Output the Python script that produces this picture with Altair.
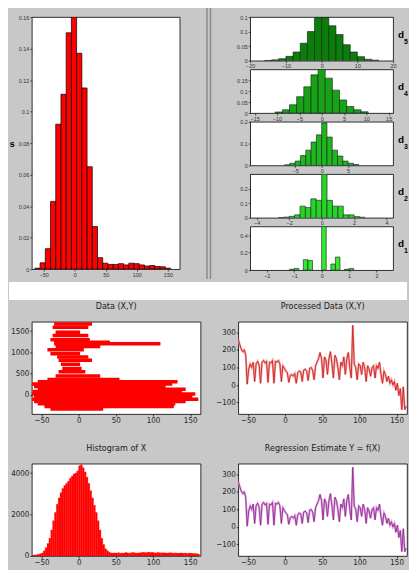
import altair as alt
import numpy as np
import pandas as pd

# ---------------- data ----------------
BIG_BIN_START = -64.1
BIG_BIN_WIDTH = 8.4
BIG_HEIGHTS = [0.0006, 0.004, 0.013, 0.043, 0.092, 0.111, 0.150, 0.160, 0.137, 0.115,
               0.065, 0.027, 0.0073, 0.0038, 0.003, 0.003, 0.0035, 0.0027, 0.0038, 0.0035,
               0.0027, 0.002, 0.0023, 0.0017, 0.0015, 0.0006]
BIG_X_TICKS = [-50, 0, 50, 100, 150]
BIG_Y_TICKS = [0, 0.02, 0.04, 0.06, 0.08, 0.1, 0.12, 0.14, 0.16]

D_NAMES = ["5", "4", "3", "2", "1"]
D_COLORS = ["#0b7d0b", "#17a317", "#1fb71f", "#25d425", "#30ea30"]

D5_STARTS = [-16, -14, -12, -10, -8, -6, -4, -2, 0, 2, 4, 6, 8, 10, 12, 14]
D5_HEIGHTS = [0.001, 0.003, 0.007, 0.015, 0.03, 0.06, 0.1, 0.148, 0.148, 0.12, 0.09, 0.055, 0.03, 0.014, 0.005, 0.002]
D5_WIDTH = 2
D4_STARTS = [-10.4, -8.8, -7.2, -5.6, -4.0, -2.4, -0.8, 0.8, 2.4, 4.0, 5.6, 7.2, 8.8]
D4_HEIGHTS = [0.005, 0.015, 0.038, 0.075, 0.12, 0.175, 0.2, 0.16, 0.105, 0.06, 0.03, 0.015, 0.006]
D4_WIDTH = 1.6
D3_STARTS = [-7, -6, -5, -4, -3, -2, -1, 0, 1, 2, 3, 4, 5, 6]
D3_HEIGHTS = [0.003, 0.01, 0.02, 0.045, 0.07, 0.107, 0.14, 0.195, 0.13, 0.07, 0.043, 0.02, 0.01, 0.004]
D3_WIDTH = 1
D2_STARTS = [-2.667, -2.333, -2.0, -1.667, -1.333, -1.0, -0.667, -0.333, 0.0, 0.333, 0.667, 1.0, 1.333, 1.667, 2.0, 2.333]
D2_HEIGHTS = [0.002, 0.005, 0.01, 0.02, 0.08, 0.07, 0.13, 0.12, 0.3, 0.12, 0.08, 0.08, 0.02, 0.02, 0.008, 0.004]
D2_WIDTH = 0.333
D1_STARTS = [-1.167, -1.0, -0.667, -0.5, 0.0, 0.333, 0.5, 0.833, 1.0]
D1_HEIGHTS = [0.01, 0.02, 0.12, 0.11, 0.5, 0.07, 0.15, 0.01, 0.02]
D1_WIDTH = 0.167

D_XDOMAINS = [[-20, 20], [-16, 16], [-13.5, 13.5], [-4.4, 4.4], [-2.6, 2.6]]
D_XTICKS = [[-20, -10, 0, 10, 20], [-15, -10, -5, 0, 5, 10, 15], [-5, 0, 5], [-4, -2, 0, 2, 4], [-2, -1, 0, 1, 2]]
D_YDOMAINS = [[0, 0.15], [0, 0.2], [0, 0.2], [0, 0.3], [0, 0.5]]
D_YTICKS = [[0, 0.05, 0.1, 0.15], [0, 0.05, 0.1, 0.15], [0, 0.1, 0.2], [0, 0.1, 0.2], [0, 0.2, 0.4]]

# Data (X,Y): horizontal streaks of '+' markers (row y, x from, x to)
ROW_Y = [1668, 1590, 1474, 1396, 1295, 1241, 1202, 1140, 1063, 970, 892, 815, 722, 622, 544,
         443, 365, 311, 257, 195, 133, 79, 24, -38, -100, -154, -209, -271, -333]
ROW_X0 = [-33, -35, -31, -35, -38, -33, -33, -31, -42, -38, -29, -27, -24, -22, -27,
          -31, -42, -55, -64, -60, -55, -62, -64, -60, -64, -60, -55, -46, -38]
ROW_X1 = [18, 13, 2, 13, 15, 42, 110, 29, 7, 2, 13, 18, 2, 4, 9,
          29, 55, 133, 126, 117, 144, 139, 157, 153, 161, 144, 130, 128, 33]

# Processed data / regression estimate line
LINE_X = list(range(-63, 164, 2))
LINE_Y = [260, 230, 205, 190, 200, 170, 5, 90, 120, 100,
          130, 20, 120, 135, 115, 10, 130, 140, 125, 135,
          15, 130, 125, 140, 10, 135, 130, 140, 120, 20,
          110, 95, 80, 70, 15, 55, 60, 50, 65, 10,
          70, 80, 75, 20, 85, 90, 80, 25, 95, 100,
          85, 30, 110, 130, 150, 185, 150, 40, 160, 140,
          60, 150, 190, 120, 40, 170, 150, 100, 30, 130,
          110, 160, 60, 150, 185, 100, 40, 340, 120, 100,
          30, 120, 110, 60, 130, 100, 20, 110, 90, 50,
          100, 110, 40, 110, 95, 130, 60, 10, 80, 60,
          20, 50, 10, 30, 0, 20, -30, 10, -60, -20,
          -140, -10, -140, -120]

# Histogram of X
HIST_BIN_START = -62.5
HIST_BIN_WIDTH = 2.5
HIST_COUNTS = [40, 50, 60, 80, 110, 150, 250, 400, 600, 850,
               1250, 1700, 2100, 2500, 2800, 3050, 3250, 3400, 3500, 3600,
               3750, 3850, 3950, 4000, 4100, 4350, 4400, 4250, 4050, 3800,
               3500, 3150, 2800, 2450, 2100, 1700, 1250, 850, 550, 350,
               250, 180, 150, 140,
               150, 140, 160, 130, 150, 140, 170, 150, 130, 160,
               170, 150, 140, 150, 160, 180, 170, 160, 190, 170,
               180, 160, 150, 170, 160, 150, 160, 150, 140, 150,
               160, 140, 150, 145, 130, 140, 150, 130, 140, 125,
               140, 130, 120, 125, 110, 100]

BOTTOM_X_TICKS = [-50, 0, 50, 100, 150]
BOTTOM_X_DOMAIN = [-63, 164]

# ---------------- styling ----------------
GRAY = "#c8c8c8"
SMALL_FONT = "Liberation Sans, Arial, sans-serif"
NARROW = "Liberation Sans Narrow, DejaVu Sans Condensed, Roboto Condensed, Liberation Sans, sans-serif"
PLOT_VIEW = alt.ViewBackground(fill="white", stroke="black", strokeWidth=0.8)


def small_axis(values, **kw):
    return alt.Axis(values=values, labelFontSize=5.5, labelFont=SMALL_FONT,
                    labelColor="#333333", tickSize=2, tickColor="black", tickWidth=0.6,
                    domain=False, grid=False, labelPadding=1, labelOverlap=False,
                    labelFlush=False, **kw)


def bottom_axis(values, **kw):
    return alt.Axis(values=values, format="d", labelFontSize=8, labelFont=NARROW,
                    labelColor="#222222", tickSize=2, tickColor="black", tickWidth=0.7,
                    domain=False, grid=False, labelPadding=1, labelOverlap=False,
                    labelFlush=False, **kw)


# ---------------- top-left big histogram ----------------
big_df = pd.DataFrame({
    "start": BIG_BIN_START + np.arange(len(BIG_HEIGHTS)) * BIG_BIN_WIDTH,
    "h": BIG_HEIGHTS,
})
big = alt.Chart(big_df).transform_calculate(
    end=f"datum.start + {BIG_BIN_WIDTH}"
).mark_bar(color="#ff0000", stroke="black", strokeWidth=0.7, clip=True).encode(
    x=alt.X("start:Q", scale=alt.Scale(domain=[-69, 169], nice=False, zero=False),
            axis=small_axis(BIG_X_TICKS), title=None),
    x2="end:Q",
    y=alt.Y("h:Q", scale=alt.Scale(domain=[0, 0.16], nice=False),
            axis=small_axis(BIG_Y_TICKS, format="~g", titleAngle=0,
                            titleFontSize=9, titleFontWeight="bold", titleFont=SMALL_FONT,
                            titleColor="black", titleAlign="right", titleBaseline="middle",
                            titlePadding=4),
            title="s"),
    y2=alt.datum(0),
).properties(width=149, height=254, view=PLOT_VIEW)

# separator between the two top halves (two groove lines)
SEP_W = 53
sep_df = pd.DataFrame({"k": [0]})
sep_a = alt.Chart(sep_df).mark_rule(color="#8a8a8a", strokeWidth=1.5).encode(
    x=alt.value(25.5), y=alt.value(-9), y2=alt.value(264))
sep_b = alt.Chart(sep_df).mark_rule(color="#8a8a8a", strokeWidth=1.5).encode(
    x=alt.value(29), y=alt.value(-9), y2=alt.value(264))
sep = alt.layer(sep_a, sep_b).properties(
    width=SEP_W, height=254, view=alt.ViewBackground(stroke="transparent"))

# ---------------- top-right detail histograms ----------------
d_starts = [D5_STARTS, D4_STARTS, D3_STARTS, D2_STARTS, D1_STARTS]
d_heights = [D5_HEIGHTS, D4_HEIGHTS, D3_HEIGHTS, D2_HEIGHTS, D1_HEIGHTS]
d_widths = [D5_WIDTH, D4_WIDTH, D3_WIDTH, D2_WIDTH, D1_WIDTH]
PW, PH = 144, 44
panels = []
for i in range(5):
    df = pd.DataFrame({"start": d_starts[i], "h": d_heights[i]})
    bars = alt.Chart(df).transform_calculate(
        end=f"datum.start + {d_widths[i]}"
    ).mark_bar(color=D_COLORS[i], stroke="#1a1a1a", strokeWidth=0.6, clip=True).encode(
        x=alt.X("start:Q", scale=alt.Scale(domain=D_XDOMAINS[i], nice=False, zero=False),
                axis=small_axis(D_XTICKS[i]), title=None),
        x2="end:Q",
        y=alt.Y("h:Q", scale=alt.Scale(domain=D_YDOMAINS[i], nice=False),
                axis=small_axis(D_YTICKS[i], format="~g"), title=None),
        y2=alt.datum(0),
    )
    lab_df = pd.DataFrame({"d": ["d"], "n": [D_NAMES[i]]})
    dtxt = alt.Chart(lab_df).mark_text(fontSize=10, fontWeight="bold", font=SMALL_FONT,
                                       align="left", baseline="middle", color="black").encode(
        x=alt.value(PW + 5), y=alt.value(PH / 2 - 4), text="d:N")
    ntxt = alt.Chart(lab_df).mark_text(fontSize=7, fontWeight="bold", font=SMALL_FONT,
                                       align="left", baseline="middle", color="black").encode(
        x=alt.value(PW + 11), y=alt.value(PH / 2 + 3), text="n:N")
    panels.append(alt.layer(bars, dtxt, ntxt).properties(width=PW, height=PH, view=PLOT_VIEW))

rightcol = alt.vconcat(*panels, spacing=8.75, bounds="flush")
top = alt.hconcat(big, sep, rightcol, spacing=0)

# white gap between halves
gap_df = pd.DataFrame({"k": [0]})
gap = alt.Chart(gap_df).mark_rect(color="white").encode(
    x=alt.value(-23), x2=alt.value(378), y=alt.value(0), y2=alt.value(18)
).properties(width=300, height=18, view=alt.ViewBackground(stroke="transparent"))

# ---------------- bottom panels ----------------
BW, BH = 170, 93


def btitle(text):
    return alt.TitleParams(text=text, fontSize=9, font=NARROW, fontWeight="normal",
                           color="#202020", offset=11, anchor="middle", frame="group")


xs_bottom = alt.Scale(domain=BOTTOM_X_DOMAIN, nice=False, zero=False)

rows_df = pd.DataFrame({"y": ROW_Y, "x0": ROW_X0, "x1": ROW_X1})
data_chart = alt.Chart(rows_df).mark_rule(color="#ff0000", strokeWidth=3.5, clip=True).encode(
    x=alt.X("x0:Q", scale=xs_bottom, axis=bottom_axis(BOTTOM_X_TICKS), title=None),
    x2="x1:Q",
    y=alt.Y("y:Q", scale=alt.Scale(domain=[-450, 1720], nice=False, zero=False),
            axis=bottom_axis([0, 500, 1000, 1500]), title=None),
).properties(width=BW, height=BH, view=PLOT_VIEW, title=btitle("Data (X,Y)"))

line_df = pd.DataFrame({"x": LINE_X, "y": LINE_Y})


def line_panel(color, halo, title):
    base = alt.Chart(line_df).encode(
        x=alt.X("x:Q", scale=xs_bottom, axis=bottom_axis(BOTTOM_X_TICKS), title=None),
        y=alt.Y("y:Q", scale=alt.Scale(domain=[-165, 360], nice=False, zero=False),
                axis=bottom_axis([-100, 0, 100, 200, 300]), title=None),
    )
    return alt.layer(
        base.mark_line(color=halo, strokeWidth=2.2, clip=True),
        base.mark_line(color=color, strokeWidth=0.9, clip=True),
    ).properties(width=BW, height=BH, view=PLOT_VIEW, title=btitle(title))


proc_chart = line_panel("#cc2424", "#f2a6a6", "Processed Data (X,Y)")
reg_chart = line_panel("#942a94", "#dcaadc", "Regression Estimate Y = f(X)")

hist_df = pd.DataFrame({
    "start": HIST_BIN_START + np.arange(len(HIST_COUNTS)) * HIST_BIN_WIDTH,
    "c": HIST_COUNTS,
})
hist_chart = alt.Chart(hist_df).transform_calculate(
    end=f"datum.start + {HIST_BIN_WIDTH}"
).mark_bar(color="#ff0000", stroke="#ff0000", strokeWidth=0.3, clip=True).encode(
    x=alt.X("start:Q", scale=xs_bottom, axis=bottom_axis(BOTTOM_X_TICKS), title=None),
    x2="end:Q",
    y=alt.Y("c:Q", scale=alt.Scale(domain=[0, 4450], nice=False),
            axis=bottom_axis([0, 2000, 4000]), title=None),
    y2=alt.datum(0),
).properties(width=BW, height=BH, view=PLOT_VIEW, title=btitle("Histogram of X"))

row1 = alt.hconcat(data_chart, proc_chart, spacing=38, bounds="flush")
row2 = alt.hconcat(hist_chart, reg_chart, spacing=38, bounds="flush")
bottom = alt.vconcat(row1, row2, spacing=17)

chart = alt.vconcat(top, gap, bottom, spacing=0).properties(
    padding={"top": -4, "left": 0, "right": 0, "bottom": 0}, background=GRAY)

chart.save("out.html", embed_options={"renderer": "svg", "actions": False})
